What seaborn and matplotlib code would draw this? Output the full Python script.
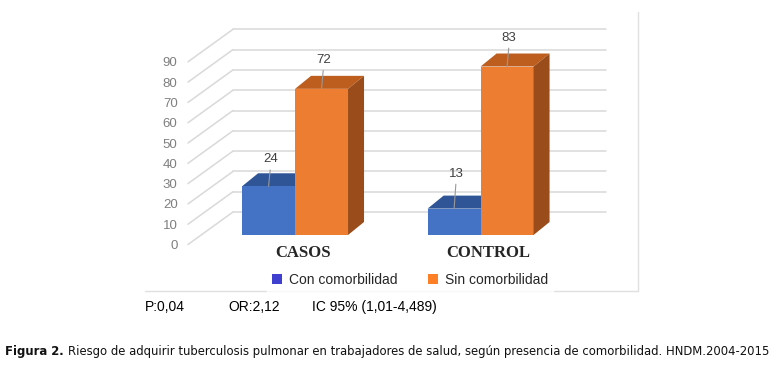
import numpy as np
import pandas as pd
import matplotlib
matplotlib.use("Agg")
import matplotlib.pyplot as plt
import matplotlib.transforms as mtransforms
from matplotlib.patches import Polygon, Patch
import seaborn as sns

# Data
grupos = ["CASOS", "CONTROL"]
series = ["Con comorbilidad", "Sin comorbilidad"]
con_comorbilidad = [24, 13]
sin_comorbilidad = [72, 83]
yticks = list(range(0, 100, 10))
stats_text = ["P:0,04", "OR:2,12", "IC 95% (1,01-4,489)"]
caption_bold = "Figura 2."
caption_rest = ("Riesgo de adquirir tuberculosis pulmonar en trabajadores de salud, "
                "según presencia de comorbilidad. HNDM.2004-2015")

df = pd.DataFrame({
    "grupo": grupos * 2,
    "serie": [series[0]] * 2 + [series[1]] * 2,
    "valor": con_comorbilidad + sin_comorbilidad,
})

# Colours
front = {series[0]: "#4472c4", series[1]: "#ed7d31"}
top = {series[0]: "#2f5597", series[1]: "#bd5e1f"}
side = {series[0]: "#264780", series[1]: "#9a4d1a"}
legend_col = {series[0]: "#3f40cf", series[1]: "#ff7f27"}
grid_col = "#d9d9d9"

sns.set_style("white")
plt.rcParams["font.family"] = ["Liberation Sans", "DejaVu Sans"]

DPI = 100
fig = plt.figure(figsize=(7.8, 3.77), dpi=DPI)
ax = fig.add_axes([188 / 780, (377 - 235) / 377, 418 / 780, 182.7 / 377])

sns.barplot(data=df, x="grupo", y="valor", hue="serie", order=grupos,
            hue_order=series, palette=front, saturation=1, width=0.571,
            ax=ax, legend=False, linewidth=0)
ax.set_xlim(-0.577, 1.676)
ax.set_ylim(0, 90)
sns.despine(ax=ax, left=True, bottom=True)
ax.set_xlabel("")
ax.set_ylabel("")
ax.set_xticks([])

# depth of the fake 3D (pixels)
dx, dy = 16, 13
wall_up = 23      # back wall above bar fronts
floor_down = 9.5  # front floor edge below bar fronts
wall_x0 = 45 / 418

px = lambda p: p / DPI
up_wall = mtransforms.ScaledTranslation(0, px(wall_up), fig.dpi_scale_trans)
down_floor = mtransforms.ScaledTranslation(0, -px(floor_down), fig.dpi_scale_trans)
blend = mtransforms.blended_transform_factory(ax.transAxes, ax.transData)

# back wall grid + diagonal floor lines
for v in yticks:
    ax.plot([wall_x0, 1], [v, v], color=grid_col, lw=1.1,
            transform=blend + up_wall, clip_on=False, zorder=0.2)
    p0 = (blend + down_floor).transform((0, v))
    p1 = (blend + up_wall).transform((wall_x0, v))
    ax.add_line(plt.Line2D([p0[0], p1[0]], [p0[1], p1[1]], color=grid_col,
                           lw=1.1, transform=None, clip_on=False, zorder=0.2))

# y tick labels shifted to the front floor edge
ax.set_yticks(yticks)
ax.tick_params(axis="y", length=0, pad=7.5, labelsize=9.5, labelcolor="#7f7f7f")
for lab in ax.get_yticklabels():
    lab.set_transform(lab.get_transform() + down_floor)

# 3D faces for every bar
bars = ax.patches[:4]
for i, bar in enumerate(bars):
    s = series[i // 2]
    x0, x1 = bar.get_x(), bar.get_x() + bar.get_width()
    h = bar.get_height()
    (ax0, ay0), (ax1, ay1) = ax.transData.transform([(x0, 0), (x1, h)])
    z = 0.8 if s == series[0] else 2.1
    bar.set_zorder(1 if s == series[0] else 2)
    top_face = [(ax0, ay1), (ax1, ay1), (ax1 + dx, ay1 + dy), (ax0 + dx, ay1 + dy)]
    side_face = [(ax1, ay0), (ax1 + dx, ay0 + dy), (ax1 + dx, ay1 + dy), (ax1, ay1)]
    ax.add_patch(Polygon(top_face, closed=True, fc=top[s], ec="none",
                         transform=None, clip_on=False, zorder=z))
    ax.add_patch(Polygon(side_face, closed=True, fc=side[s], ec="none",
                         transform=None, clip_on=False, zorder=z))

# value labels with leader lines
label_lift = [27, 35, 29, 29]
for bar, lift in zip(bars, label_lift):
    cx = bar.get_x() + bar.get_width() / 2
    h = bar.get_height()
    ax.annotate(f"{h:.0f}", xy=(cx, h), xytext=(1.5, lift * 0.72),
                textcoords="offset points", ha="center", va="center",
                fontsize=9.5, color="#404040", zorder=5,
                arrowprops=dict(arrowstyle="-", color="#999999", lw=0.8,
                                shrinkA=1, shrinkB=0, relpos=(0.5, 0.0)))

# category labels
for i, g in enumerate(grupos):
    ax.text(i + 8 / 185.5, -9, g, ha="center", va="center",
            transform=ax.transData, fontsize=12, fontweight="bold",
            family=["Liberation Serif", "DejaVu Serif"], clip_on=False)

# outer frame pieces
fig.add_artist(plt.Line2D([638 / 780, 638 / 780], [1 - 12 / 377, 1 - 291 / 377],
                          color="#e0e0e0", lw=1, transform=fig.transFigure))
fig.add_artist(plt.Line2D([145 / 780, 638 / 780], [1 - 291 / 377, 1 - 291 / 377],
                          color="#e0e0e0", lw=1, transform=fig.transFigure))

# legend
handles = [Patch(facecolor=legend_col[s], edgecolor="none", label=s) for s in series]
leg = fig.legend(handles=handles, loc="center", bbox_to_anchor=(410 / 780, 1 - 280 / 377),
                 ncol=2, frameon=True, fontsize=10, handlelength=0.7, handleheight=0.7,
                 handletextpad=0.5, columnspacing=2.2, borderpad=0.4)
leg.get_frame().set_facecolor("white")
leg.get_frame().set_edgecolor("white")
leg.get_frame().set_boxstyle("square", pad=0.0)
for t in leg.get_texts():
    t.set_color("#262626")

# statistics line
for txt, xp in zip(stats_text, [145, 228, 312]):
    fig.text(xp / 780, 1 - 307 / 377, txt, ha="left", va="center", fontsize=10, color="black")

# caption
t1 = fig.text(5 / 780, 1 - 352 / 377, caption_bold, ha="left", va="center",
              fontsize=8.35, fontweight="bold", family="DejaVu Sans", color="#111111")
fig.canvas.draw()
ax.annotate(caption_rest, xy=(1, 0.5), xycoords=t1, xytext=(3, 0),
            textcoords="offset points", ha="left", va="center",
            fontsize=8.35, family="DejaVu Sans", color="#111111",
            annotation_clip=False)

fig.savefig("out.png", dpi=DPI, facecolor="white")
